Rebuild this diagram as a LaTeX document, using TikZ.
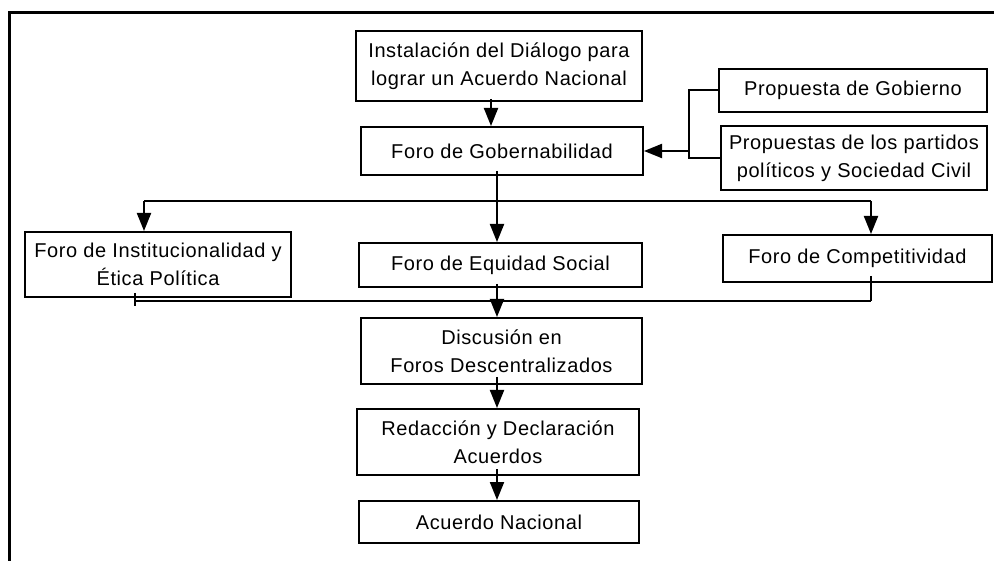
\documentclass[tikz,border=0pt]{standalone}
\usepackage{fontspec}
\setmainfont{Liberation Sans}[LetterSpace=3.0]
\usepackage{tikz}
\usetikzlibrary{arrows.meta}

\begin{document}
\begin{tikzpicture}[x=1pt, y=-1pt,
    every node/.style={font=\fontsize{20}{28}\selectfont},
    box/.style={draw, line width=2pt, inner sep=0pt, align=center},
    line/.style={line width=2pt},
    arr/.style={line width=2pt, -{Triangle[length=18pt,width=14pt]}}]
      \useasboundingbox (0,0) rectangle (994,561);
      % frame
      \draw[line width=3pt] (9,561) -- (9,13) -- (994,13);
      % boxes
      \node[box, minimum width=286pt, minimum height=70pt] (inst) at (499,66) {Instalación del Diálogo para\\lograr un Acuerdo Nacional};
      \node[box, minimum width=282pt, minimum height=48pt] (gob) at (502,151) {Foro de Gobernabilidad};
      \node[box, minimum width=268pt, minimum height=43pt] (pgob) at (853,90.5) {Propuesta de Gobierno};
      \node[box, minimum width=266pt, minimum height=64pt] (ppart) at (854,158) {Propuestas de los partidos\\políticos y Sociedad Civil};
      \node[box, minimum width=266pt, minimum height=65pt] (instit) at (158,264.5) {Foro de Institucionalidad y\\Ética Política};
      \node[box, minimum width=283pt, minimum height=44pt] (equi) at (500.5,265) {Foro de Equidad Social};
      \node[box, minimum width=269pt, minimum height=47pt] (comp) at (857.5,258.5) {Foro de Competitividad};
      \node[box, minimum width=281pt, minimum height=66pt] (disc) at (501.5,351) {Discusión en\\Foros Descentralizados};
      \node[box, minimum width=282pt, minimum height=66pt] (red) at (498,442) {Redacción y Declaración\\Acuerdos};
      \node[box, minimum width=280pt, minimum height=42pt] (acu) at (499,522) {Acuerdo Nacional};
      % helper points
      \coordinate (sp) at (497,0);
      \coordinate (jn) at (689,0);
      \coordinate (dl) at (144,201);
      \coordinate (dr) at (871,201);
      \coordinate (ml) at (135,301);
      \coordinate (mr) at (871,301);
      % connectors
      \draw[arr] ([xshift=-8pt,yshift=3pt]inst.south) -- ([xshift=-8pt]inst.south |- gob.north);
      \draw[line] (pgob.west) -| (jn |- ppart.west) -- (ppart.west);
      \draw[arr] (jn |- gob.east) -- (gob.east);
      \draw[line] (dl) -- (dr);
      \draw[arr] ([yshift=5pt]sp |- gob.south) -- (sp |- equi.north);
      \draw[arr] (dl) -- (dl |- instit.north);
      \draw[arr] (dr) -- (dr |- comp.north);
      \draw[line] (ml) -- (mr);
      \draw[line] ([yshift=5pt]ml |- instit.south) -- ([yshift=-5pt]ml);
      \draw[line] ([yshift=7pt]mr |- comp.south) -- (mr);
      \draw[arr] ([yshift=4pt]sp |- equi.south) -- (sp |- disc.north);
      \draw[arr] ([yshift=8pt]sp |- disc.south) -- (sp |- red.north);
      \draw[arr] ([yshift=7pt]sp |- red.south) -- (sp |- acu.north);
    \end{tikzpicture}
\end{document}
